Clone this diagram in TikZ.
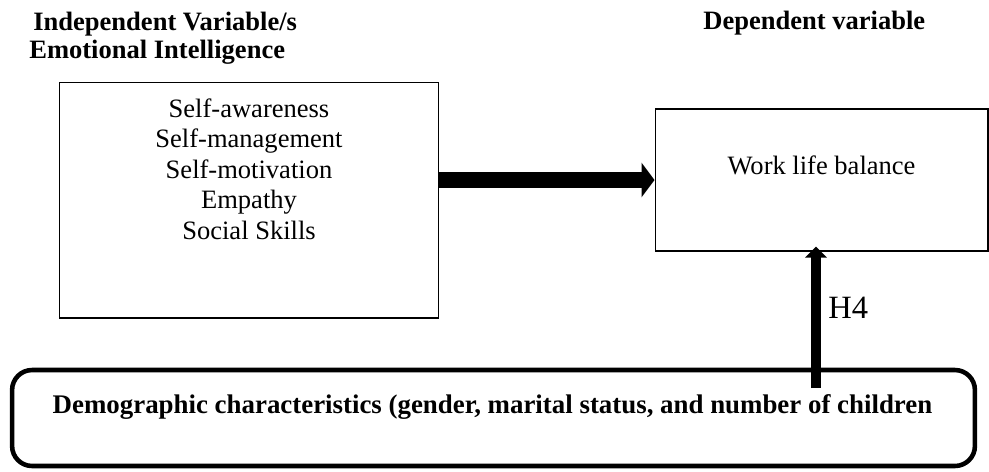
\documentclass[tikz,border=0pt]{standalone}
\usepackage{fontspec}
\setmainfont{Liberation Serif}
\usepackage{tikz}
\usetikzlibrary{arrows.meta,positioning}

\tikzset{
  varbox/.style={draw, line width=0.6pt, inner sep=0pt},
  demobox/.style={draw, line width=2.6pt, rounded corners=0.4cm, inner sep=0pt},
  fatarrow/.style={line width=0.32cm, -{Triangle[length=0.26cm,width=0.68cm]}},
  thinarrow/.style={line width=0.2cm, -{Triangle[length=0.22cm,width=0.42cm]}},
  headtext/.style={font=\fontsize{15.1}{17.4}\selectfont\bfseries, inner sep=0pt, anchor=base west},
  itemtext/.style={font=\fontsize{15.1}{17.4}\selectfont, inner sep=0pt, align=center},
}

\begin{document}
\begin{tikzpicture}[x=0.02cm,y=-0.02cm]
    \useasboundingbox (0,0) rectangle (989,471);
    %% titles above the boxes
    \node[headtext] (indephead) at (33,30) {Independent Variable/s};
    \node[headtext] (eihead) at (29,58) {Emotional Intelligence};
    \node[headtext] (dephead) at (703,29) {Dependent variable};
    %% the two variable boxes
    \node[varbox, minimum width=7.6cm, minimum height=4.72cm] (ei) at (249,200) {};
    \node[itemtext, anchor=north] (eitext) at (249,98)
        {Self-awareness\\Self-management\\Self-motivation\\Empathy\\Social Skills};
    \node[varbox, minimum width=6.66cm, minimum height=2.84cm] (wlb) at (821.5,180) {};
    \node[itemtext, anchor=base] (wlbtext) at (821.5,174) {Work life balance};
    %% demographic box at the bottom
    \node[demobox, minimum width=19.26cm, minimum height=1.92cm] (demo) at (493.5,418) {};
    \node[headtext, font=\fontsize{15.3}{17.6}\selectfont\bfseries, anchor=base] (demotext) at (492.5,413)
        {Demographic characteristics (gender, marital status, and number of children};
    %% arrows
    \draw[fatarrow] (ei.east |- wlb.west) -- (wlb.west);
    \coordinate (h4start) at (816,388);
    \draw[thinarrow] (h4start) -- ([yshift=0.1cm]h4start |- wlb.south);
    \node[itemtext, font=\fontsize{18.5}{21}\selectfont, anchor=base west] (h4) at (828,318) {H4};
\end{tikzpicture}
\end{document}
